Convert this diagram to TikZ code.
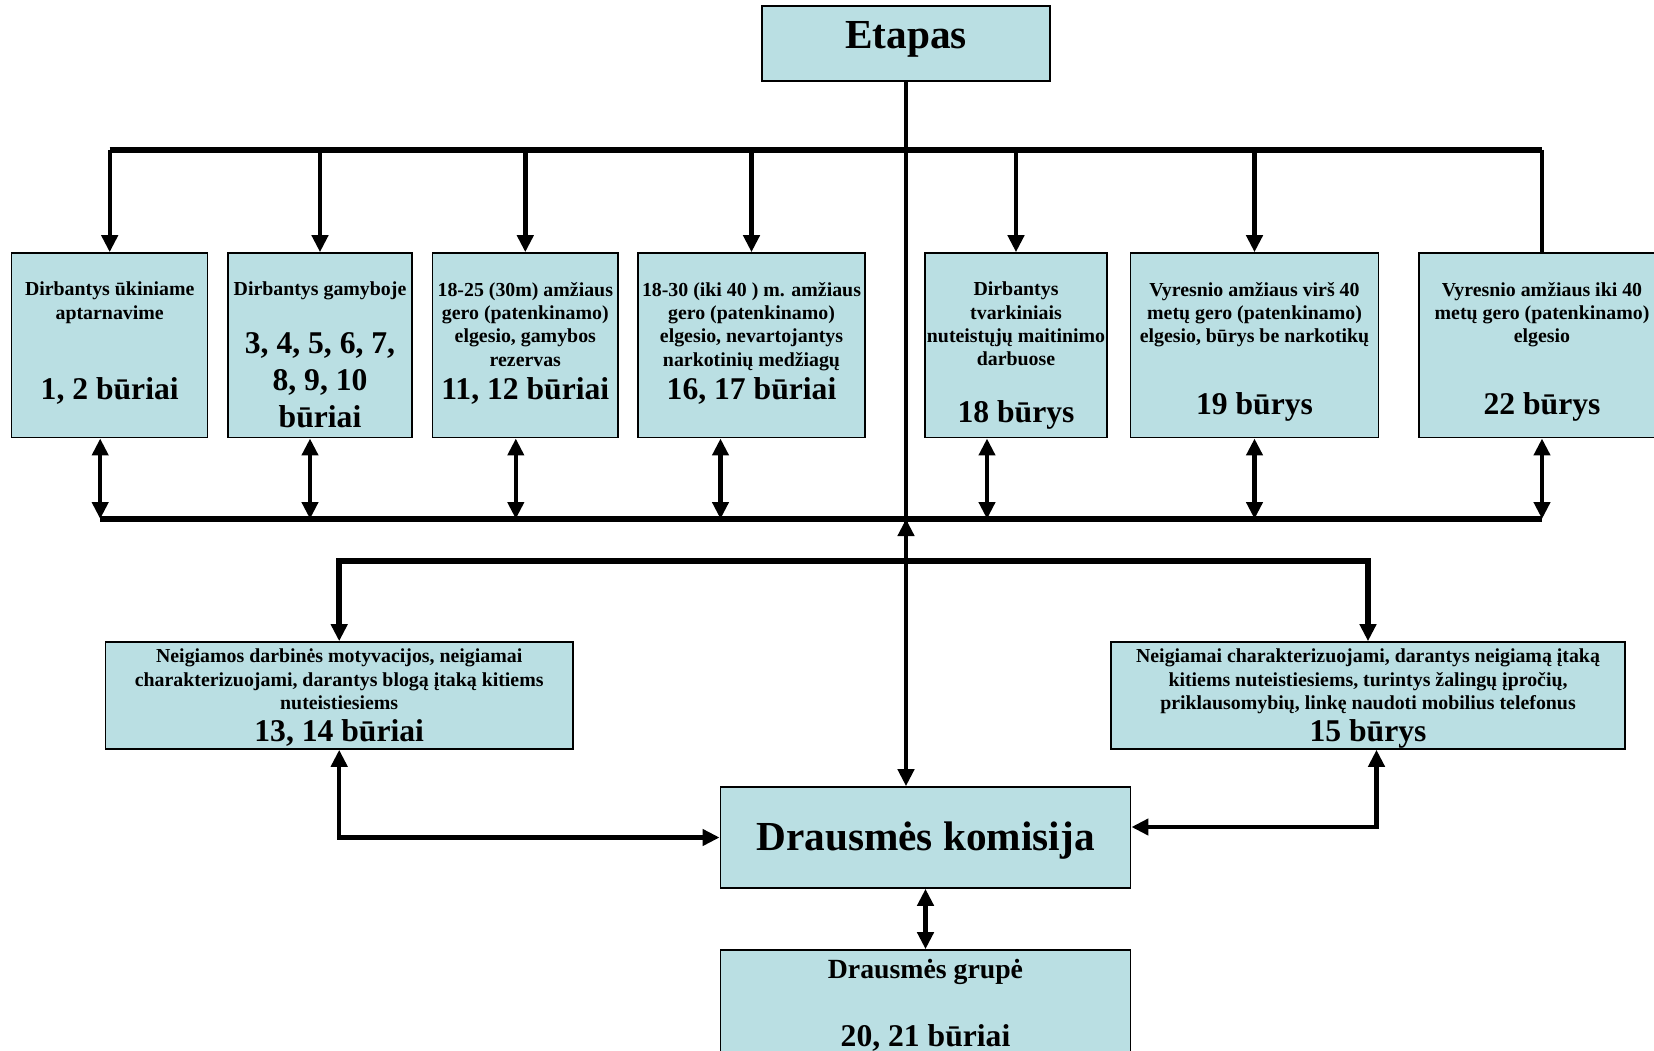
\documentclass[tikz,border=0pt]{standalone}
\usepackage{fontspec}
\setmainfont{Liberation Serif}
\usetikzlibrary{arrows.meta,positioning,calc}
\definecolor{boxfill}{RGB}{186,223,227}
\tikzset{
  >={Triangle[length=3.4mm,width=3.2mm]},
  unitBox/.style={draw=black, line width=0.9pt, fill=boxfill, inner sep=0pt},
  smallText/.style={font=\fontsize{11.3}{13.3}\selectfont\bfseries, align=center, anchor=north, inner sep=0pt},
  bigText/.style={font=\fontsize{18}{21}\selectfont\bfseries, align=center, anchor=north, inner sep=0pt},
  titleText/.style={font=\fontsize{23.5}{28}\selectfont\bfseries, inner sep=0pt},
  link/.style={line width=2.5pt},
  busLine/.style={line width=3.2pt},
}

\begin{document}
\begin{tikzpicture}
\useasboundingbox (0,0) rectangle (33.08,-21.02);

% ===== Etapas =====
\node[unitBox, minimum width=57.6mm, minimum height=15mm] (etapas) at (18.12,-0.87) {};
\node[titleText] (etapasT) at ($(etapas.center)+(0,0.09)$) {Etapas};

% ===== Top row of units =====
\foreach [count=\i] \x/\w in {2.194/39.2, 6.40/36.9, 10.506/37.1, 15.03/45.4, 20.32/36.5, 25.09/49.6, 30.84/49.3} {
  \node[unitBox, minimum width=\w mm, minimum height=36.94mm] (b\i) at (\x,-6.907) {};
}
\node[smallText] (b1t) at ($(b1.north)+(0,-0.59)$) {Dirbantys ūkiniame\\aptarnavime};
\node[bigText] (b1n) at ($(b1.north)+(0,-2.50)$) {1, 2 būriai};
\node[smallText] (b2t) at ($(b2.north)+(0,-0.59)$) {Dirbantys gamyboje};
\node[bigText] (b2n) at ($(b2.north)+(0,-1.60)$) {3, 4, 5, 6, 7,\\8, 9, 10\\būriai};
\node[smallText] (b3t) at ($(b3.north)+(0,-0.59)$) {18-25 (30m) amžiaus\\gero (patenkinamo)\\elgesio, gamybos\\rezervas};
\node[bigText] (b3n) at ($(b3.north)+(0,-2.50)$) {11, 12 būriai};
\node[smallText] (b4t) at ($(b4.north)+(0,-0.59)$) {18-30 (iki 40 ) m. amžiaus\\gero (patenkinamo)\\elgesio, nevartojantys\\narkotinių medžiagų};
\node[bigText] (b4n) at ($(b4.north)+(0,-2.50)$) {16, 17 būriai};
\node[smallText] (b5t) at ($(b5.north)+(0,-0.59)$) {Dirbantys\\tvarkiniais\\nuteistųjų maitinimo\\darbuose};
\node[bigText] (b5n) at ($(b5.north)+(0,-2.96)$) {18 būrys};
\node[smallText] (b6t) at ($(b6.north)+(0,-0.59)$) {Vyresnio amžiaus virš 40\\metų gero (patenkinamo)\\elgesio, būrys be narkotikų};
\node[bigText] (b6n) at ($(b6.north)+(0,-2.80)$) {19 būrys};
\node[smallText] (b7t) at ($(b7.north)+(0,-0.59)$) {Vyresnio amžiaus iki 40\\metų gero (patenkinamo)\\elgesio};
\node[bigText] (b7n) at ($(b7.north)+(0,-2.80)$) {22 būrys};

% ===== Negative groups =====
\node[unitBox, minimum width=93.46mm, minimum height=21.4mm] (neg1) at (6.784,-13.91) {};
\node[smallText] (neg1t) at ($(neg1.north)+(0,-0.15)$) {Neigiamos darbinės motyvacijos, neigiamai\\charakterizuojami, darantys blogą įtaką kitiems\\nuteistiesiems};
\node[bigText] (neg1n) at ($(neg1.north)+(0,-1.56)$) {13, 14 būriai};
\node[unitBox, minimum width=102.9mm, minimum height=21.4mm] (neg2) at (27.36,-13.91) {};
\node[smallText] (neg2t) at ($(neg2.north)+(0,-0.15)$) {Neigiamai charakterizuojami, darantys neigiamą įtaką\\kitiems nuteistiesiems, turintys žalingų įpročių,\\priklausomybių, linkę naudoti mobilius telefonus};
\node[bigText] (neg2n) at ($(neg2.north)+(0,-1.56)$) {15 būrys};

% ===== Commission and group =====
\node[unitBox, minimum width=82.06mm, minimum height=20.2mm] (komisija) at (18.51,-16.75) {};
\node[titleText] (komisijaT) at ($(komisija.center)+(0,-0.06)$) {Drausmės komisija};
\node[unitBox, minimum width=82.06mm, minimum height=28mm] (grupe) at (18.51,-20.4) {};
\node[font=\fontsize{15.8}{19}\selectfont\bfseries, anchor=north, inner sep=0pt] (grupet) at ($(grupe.north)+(0,-0.19)$) {Drausmės grupė};
\node[bigText] (grupen) at ($(grupe.north)+(0,-1.50)$) {20, 21 būriai};

% ===== Connections =====
\coordinate (topBus) at (18.12,-3.0);
\coordinate (lowBus) at (18.12,-10.38);
\coordinate (midBus) at (18.12,-11.22);
\foreach \i/\dx in {1/-0.19,2/-0.20,3/-0.19,4/-0.62,5/-0.58,6/0,7/0} {
  \coordinate (d\i) at ($(b\i.south)+(\dx,0)$);
}

\draw[link,->] (etapas.south) -- (etapas.south |- komisija.north);
\draw[busLine] (b1.north |- topBus) -- (d7 |- topBus);
\foreach \i in {1,...,6} {\draw[link,->] (b\i.north |- topBus) -- (b\i.north);}
\draw[link] (d7 |- topBus) -- (d7 |- b7.north);

\foreach \i in {1,...,7} {\draw[link,<->] (d\i) -- (d\i |- lowBus);}
\draw[busLine] (d1 |- lowBus) -- (d7 |- lowBus);
\draw[link,->] (etapas.south |- midBus) -- (etapas.south |- lowBus);

\draw[busLine,<->] (neg1.north) |- (midBus) -| (neg2.north);

\draw[link,<->] (neg1.south) |- (komisija.west);
\coordinate (neg2Foot) at ($(neg2.south)+(0.17,0)$);
\coordinate (komEast) at ($(komisija.east)+(0,0.21)$);
\draw[link,<->] (neg2Foot) |- (komEast);
\draw[link,<->] (komisija.south) -- (grupe.north);

\end{tikzpicture}
\end{document}
